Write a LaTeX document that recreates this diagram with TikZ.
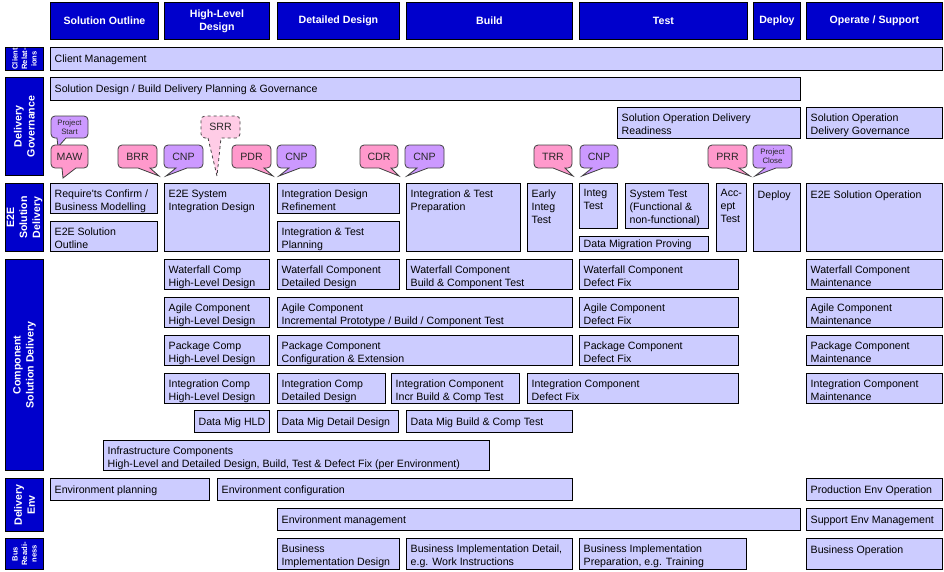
\documentclass[tikz,border=0pt]{standalone}
\usepackage{fontspec}
\setmainfont{Liberation Sans}
\definecolor{hdrblue}{RGB}{0,0,204}
\definecolor{boxfill}{RGB}{204,204,255}
\definecolor{cpink}{RGB}{255,153,204}
\definecolor{cpurple}{RGB}{204,153,255}
\definecolor{clight}{RGB}{255,204,230}
\definecolor{cline}{RGB}{64,64,64}
\definecolor{ctext}{RGB}{40,40,40}
\tikzset{
  boxst/.style={draw=black, line width=0.9pt, fill=boxfill, inner sep=0pt, outer sep=0pt, rectangle},
  txt/.style={anchor=north west, inner sep=0pt, align=left, font=\fontsize{10.6}{13}\selectfont, execute at begin node=\strut},
  hdr/.style={draw=black, line width=0.9pt, fill=hdrblue, text=white, inner sep=0pt, align=center, font=\bfseries\fontsize{10.6}{13}\selectfont},
  sidebox/.style={draw=black, line width=0.9pt, fill=hdrblue, inner sep=0pt},
  sidetxt/.style={rotate=90, text=white, align=center, inner sep=0pt, font=\bfseries\fontsize{10.6}{13}\selectfont},
  sidetiny/.style={rotate=90, text=white, align=center, inner sep=0pt, font=\bfseries\fontsize{7.6}{9.5}\selectfont},
  cpinkst/.style={draw=cline, line width=0.8pt, fill=cpink},
  cpurst/.style={draw=cline, line width=0.8pt, fill=cpurple},
  clightst/.style={draw=cline, line width=0.8pt, fill=clight, dashed},
  ctxt/.style={text=ctext, align=center, inner sep=0pt, font=\fontsize{10.6}{13}\selectfont},
  ctiny/.style={text=ctext, align=center, inner sep=0pt, font=\fontsize{7.8}{9}\selectfont},
}
% box: name, x1, y1, x2, y2, text
\newcommand\bx[6]{%
  \node[boxst, minimum width={(#4-#2)*1pt}, minimum height={(#5-#3)*1pt}, anchor=north west] (#1) at (#2,#3) {};
  \node[txt] (#1t) at ([xshift=4.5pt,yshift=-6.4pt]#1.north west) {#6};
}
\newcommand\hd[4]{%
  \node[hdr, minimum width={(#3-#2)*1pt}, minimum height=37pt, anchor=north west] (#1) at (#2,2) {#4};
}
\newcommand\sd[5]{%
  \node[sidebox, minimum width=38pt, minimum height={(#3-#2)*1pt}, anchor=north west] (#1) at (5,#2) {};
  \node[#4] (#1t) at (#1.center) {#5};
}
% callout: name, shape style, x1, y1, x2, y2, tail path, text style, text
\newcommand\callout[9]{%
  \draw[#2] #7 [rounded corners=4pt] -- (#5,#6) -- (#5,#4) -- (#3,#4) -- (#3,#6) [sharp corners] -- cycle;
  \node[#8] (#1) at ({(#3+#5)/2},{(#4+#6)/2}) {#9};
}
\begin{document}
\begin{tikzpicture}[x=1pt,y=-1pt]
\useasboundingbox (0,0) rectangle (944,571);
% headers
\hd{h1}{50}{158}{Solution Outline}
\hd{h2}{164}{269}{High-Level\\Design}
\hd{h3}{277}{399}{Detailed Design}
\hd{h4}{406}{572}{Build}
\hd{h5}{579}{747}{Test}
\hd{h6}{753}{800}{Deploy}
\hd{h7}{806}{942}{Operate / Support}
% side labels
\sd{cr}{47}{70}{sidetiny}{Client\\Relat-\\ions}
\sd{dg}{77}{175}{sidetxt}{Delivery\\Governance}
\sd{esd}{183}{251}{sidetxt}{E2E\\Solution\\Delivery}
\sd{csd}{259}{470}{sidetxt}{Component\\Solution Delivery}
\sd{de}{478}{531}{sidetxt}{Delivery\\Env}
\sd{br}{538}{569}{sidetiny}{Bus\\Readi-\\ness}
% governance rows
\bx{cm}{50}{47}{942}{70}{Client Management}
\bx{sdg}{50}{77}{800}{100}{Solution Design / Build Delivery Planning \& Governance}
\bx{sodr}{617}{107}{800}{138}{Solution Operation Delivery\\Readiness}
\bx{sodg}{806}{107}{942}{138}{Solution Operation\\Delivery Governance}
% callouts
\callout{ps}{cpurst}{51}{116}{88}{138}{(57,138) -- (58,147) -- (66,138)}{ctiny}{Project\\Start}
\callout{maw}{cpinkst}{51}{145}{88}{168}{(62,168) -- (63,178) -- (76,168)}{ctxt}{MAW}
\callout{brr}{cpinkst}{118}{145}{157}{168}{(138,168) -- (159,176) -- (150,168)}{ctxt}{BRR}
\callout{cnpa}{cpurst}{164}{145}{203}{168}{(176,168) -- (166,176) -- (187,168)}{ctxt}{CNP}
\callout{srr}{clightst}{201}{116}{240}{138}{(208,138) -- (217,176) -- (221,138)}{ctxt}{SRR}
\callout{pdr}{cpinkst}{232}{145}{271}{168}{(252,168) -- (273,176) -- (264,168)}{ctxt}{PDR}
\callout{cnpb}{cpurst}{277}{145}{316}{168}{(289,168) -- (279,176) -- (300,168)}{ctxt}{CNP}
\callout{cdr}{cpinkst}{360}{145}{398}{168}{(379,168) -- (399,176) -- (391,168)}{ctxt}{CDR}
\callout{cnpc}{cpurst}{405}{145}{444}{168}{(417,168) -- (407,176) -- (428,168)}{ctxt}{CNP}
\callout{trr}{cpinkst}{534}{145}{572}{168}{(553,168) -- (573,176) -- (565,168)}{ctxt}{TRR}
\callout{cnpd}{cpurst}{580}{145}{618}{168}{(592,168) -- (582,176) -- (603,168)}{ctxt}{CNP}
\callout{prr}{cpinkst}{708}{145}{747}{168}{(727,168) -- (750,176) -- (739,168)}{ctxt}{PRR}
\callout{pc}{cpurst}{753}{145}{792}{168}{(765,168) -- (755,176) -- (776,168)}{ctiny}{Project\\Close}
% E2E solution delivery
\bx{rc}{50}{183}{157}{213}{Require\textquotesingle ts Confirm /\\Business Modelling}
\bx{eso}{50}{221}{157}{251}{E2E Solution\\Outline}
\bx{esid}{164}{183}{269}{251}{E2E System\\Integration Design}
\bx{idr}{277}{183}{399}{213}{Integration Design\\Refinement}
\bx{itp}{277}{221}{399}{251}{Integration \& Test\\Planning}
\bx{itprep}{406}{183}{520}{251}{Integration \& Test\\Preparation}
\bx{eit}{527}{183}{572}{251}{Early\\Integ\\Test}
\bx{it}{579}{183}{617}{228}{Integ\\Test}
\bx{st}{625}{183}{708}{228}{System Test\\(Functional \&\\non-functional)}
\node[boxst, minimum width=129pt, minimum height=15pt, anchor=north west] (dmp) at (579,236) {};
\node[txt] (dmpt) at ([xshift=4.5pt,yshift=-2.4pt]dmp.north west) {Data Migration Proving};
\bx{at}{716}{183}{746}{251}{Acc-\\ept\\Test}
\bx{dep}{753}{183}{800}{251}{Deploy}
\bx{eop}{806}{183}{942}{251}{E2E Solution Operation}
% component solution delivery
\bx{wchld}{164}{259}{269}{289}{Waterfall Comp\\High-Level Design}
\bx{wcdd}{277}{259}{399}{289}{Waterfall Component\\Detailed Design}
\bx{wcb}{406}{259}{572}{289}{Waterfall Component\\Build \& Component Test}
\bx{wcdf}{579}{259}{738}{289}{Waterfall Component\\Defect Fix}
\bx{wcm}{806}{259}{942}{289}{Waterfall Component\\Maintenance}
\bx{achld}{164}{297}{269}{327}{Agile Component\\High-Level Design}
\bx{acip}{277}{297}{572}{327}{Agile Component\\Incremental Prototype / Build / Component Test}
\bx{acdf}{579}{297}{738}{327}{Agile Component\\Defect Fix}
\bx{acm}{806}{297}{942}{327}{Agile Component\\Maintenance}
\bx{pchld}{164}{335}{269}{365}{Package Comp\\High-Level Design}
\bx{pcce}{277}{335}{572}{365}{Package Component\\Configuration \& Extension}
\bx{pcdf}{579}{335}{738}{365}{Package Component\\Defect Fix}
\bx{pcm}{806}{335}{942}{365}{Package Component\\Maintenance}
\bx{ichld}{164}{373}{269}{403}{Integration Comp\\High-Level Design}
\bx{icdd}{277}{373}{385}{403}{Integration Comp\\Detailed Design}
\bx{icib}{391}{373}{519}{403}{Integration Component\\Incr Build \& Comp Test}
\bx{icdf}{527}{373}{738}{403}{Integration Component\\Defect Fix}
\bx{icm}{806}{373}{942}{403}{Integration Component\\Maintenance}
\bx{dmh}{194}{410}{269}{432}{Data Mig HLD}
\bx{dmdd}{277}{410}{398}{432}{Data Mig Detail Design}
\bx{dmb}{406}{410}{572}{432}{Data Mig Build \& Comp Test}
\bx{inf}{103}{440}{489}{470}{Infrastructure Components\\High-Level and Detailed Design, Build, Test \& Defect Fix (per Environment)}
% delivery env
\bx{ep}{50}{478}{209}{500}{Environment planning}
\bx{ec}{217}{478}{572}{500}{Environment configuration}
\bx{peo}{806}{478}{942}{500}{Production Env Operation}
\bx{em}{277}{508}{800}{530}{Environment management}
\bx{sem}{806}{508}{942}{530}{Support Env Management}
% business readiness
\bx{bid}{277}{538}{399}{569}{Business\\Implementation Design}
\bx{bidet}{406}{538}{572}{569}{Business Implementation Detail,\\e.g. Work Instructions}
\bx{bip}{579}{538}{746}{569}{Business Implementation\\Preparation, e.g. Training}
\bx{bo}{806}{538}{942}{569}{Business Operation}
\end{tikzpicture}
\end{document}
